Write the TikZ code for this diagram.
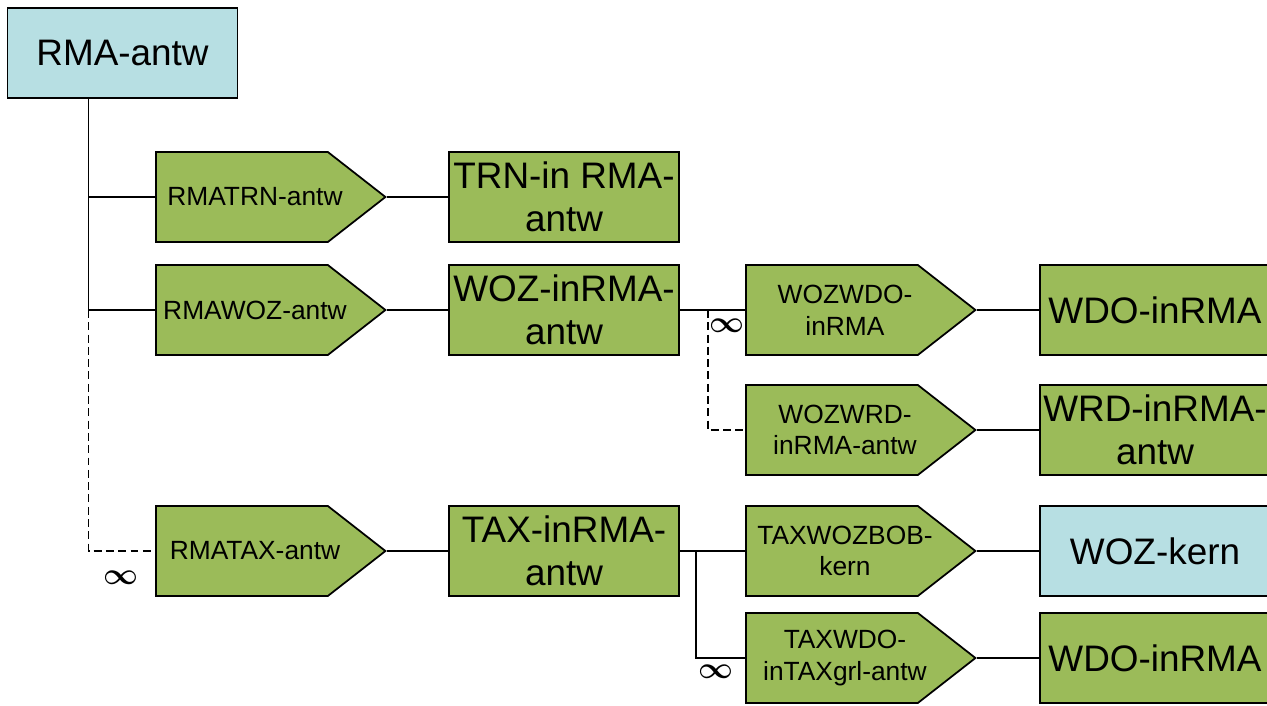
\documentclass[tikz,border=0pt]{standalone}
\usepackage{fontspec}
\setmainfont{Liberation Sans}
\usepackage{amsmath}
\usetikzlibrary{shapes.symbols, calc}
\definecolor{kerncyan}{RGB}{183,223,227}
\definecolor{relgreen}{RGB}{155,187,89}

\tikzset{
  entity/.style={draw, line width=1pt, fill=relgreen, minimum width=4.6cm,
    minimum height=1.8cm, inner sep=1pt, align=center,
    font=\fontsize{21}{24.5}\selectfont},
  relation/.style={draw, line width=1pt, fill=relgreen, signal, signal to=east,
    signal pointer angle=76, text width=3.3cm, inner xsep=0.07cm,
    minimum height=1.8cm, anchor=west,
    label={[reltext]west:#1}},
  reltext/.style={anchor=center, xshift=2cm, align=center,
    font=\fontsize{15}{18}\selectfont},
  link/.style={line width=0.75pt},
  optional/.style={link, dash pattern=on 4.5pt off 2.5pt},
  many/.style={font=\fontsize{16}{16}\selectfont}
}

\begin{document}
\begin{tikzpicture}[x=0.02cm, y=-0.02cm]
    \useasboundingbox (0,0) rectangle (1267,706);

    % entities
    \node[entity, fill=kerncyan] (rma) at (122.5,53) {RMA-antw};
    \node[entity] (trn)  at (564,197) {TRN-in RMA-\\antw};
    \node[entity] (woz)  at (564,310) {WOZ-inRMA-\\antw};
    \node[entity] (tax)  at (564,551) {TAX-inRMA-\\antw};
    \node[entity] (wdo)  at (1155,310) {WDO-inRMA};
    \node[entity] (wrd)  at (1155,430) {WRD-inRMA-\\antw};
    \node[entity, fill=kerncyan] (wozkern) at (1155,551) {WOZ-kern};
    \node[entity] (wdotax) at (1155,658) {WDO-inRMA};

    % relations
    \node[relation={RMATRN-antw}] (rmatrn) at (155,197) {};
    \node[relation={RMAWOZ-antw}] (rmawoz) at (155,310) {};
    \node[relation={RMATAX-antw}] (rmatax) at (155,551) {};
    \node[relation={WOZWDO-\\inRMA}] (wozwdo) at (745,310) {};
    \node[relation={WOZWRD-\\inRMA-antw}] (wozwrd) at (745,430) {};
    \node[relation={TAXWOZBOB-\\kern}] (taxwozbob) at (745,551) {};
    \node[relation={TAXWDO-\\inTAXgrl-antw}] (taxwdo) at (745,658) {};

    % trunk under RMA-antw
    \coordinate (trunk) at ($(rma.south west)+(82,0)$);
    \draw[link] (trunk) -- (trunk |- rmawoz.west);
    \draw[link] (trunk |- rmatrn.west) -- (rmatrn.west);
    \draw[link] (trunk |- rmawoz.west) -- (rmawoz.west);
    \draw[optional] (trunk |- rmawoz.west) -- (trunk |- rmatax.west) -- (rmatax.west);

    % relation to entity
    \foreach \rel/\ent in {rmatrn/trn, rmawoz/woz, rmatax/tax, wozwdo/wdo,
        wozwrd/wrd, taxwozbob/wozkern, taxwdo/wdotax}
        \draw[link] (\rel.east) -- (\ent.west);

    % WOZ branches
    \draw[link] (woz.east) -- (wozwdo.west);
    \coordinate (wozsplit) at ($(woz.east)+(28,0)$);
    \draw[optional] (wozsplit) |- (wozwrd.west);

    % TAX branches
    \draw[link] (tax.east) -- (taxwozbob.west);
    \coordinate (taxsplit) at ($(tax.east)+(16,0)$);
    \draw[link] (taxsplit) |- (taxwdo.west);

    % multiplicities
    \node[many] (mwoz) at (727,326) {$\boldsymbol{\infty}$};
    \node[many] (mtax) at (121,578) {$\boldsymbol{\infty}$};
    \node[many] (mtwd) at (716,672) {$\boldsymbol{\infty}$};
\end{tikzpicture}
\end{document}
